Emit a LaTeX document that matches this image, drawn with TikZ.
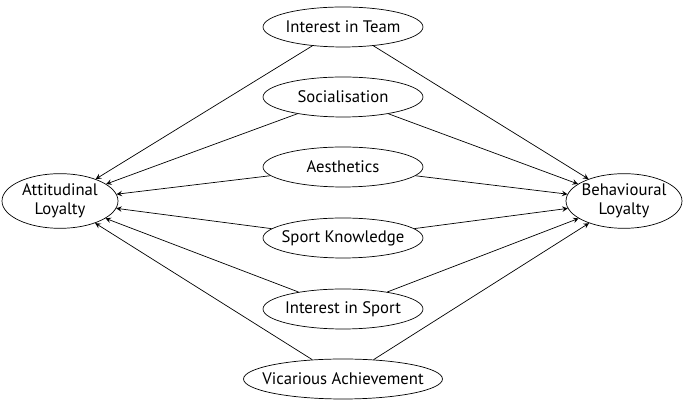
\documentclass[tikz,border=0pt]{standalone}
\usepackage{fontspec}
\setmainfont{PT Sans}
\usetikzlibrary{shapes.geometric}
\newcommand{\zw}[1]{\makebox[0pt]{#1}}
\begin{document}
\begin{tikzpicture}[x=0.02cm,y=-0.02cm,
  el/.style={draw,ellipse,inner sep=0pt,font=\fontsize{9.5}{11}\selectfont},
  arr/.style={->,>=stealth,thin}]
\useasboundingbox (0,0) rectangle (686,404);
\node[el,minimum width=3.2cm,minimum height=0.8cm] (t) at (343,27) {\zw{Interest in Team}};
\node[el,minimum width=3.2cm,minimum height=0.8cm] (s) at (343,97) {\zw{Socialisation}};
\node[el,minimum width=3.2cm,minimum height=0.8cm] (a) at (343,167) {\zw{Aesthetics}};
\node[el,minimum width=3.2cm,minimum height=0.8cm] (k) at (343,238) {\zw{Sport Knowledge}};
\node[el,minimum width=3.2cm,minimum height=0.8cm] (p) at (343,309) {\zw{Interest in Sport}};
\node[el,minimum width=3.98cm,minimum height=0.8cm] (v) at (343,379) {\zw{Vicarious Achievement}};
\node[el,minimum width=2.32cm,minimum height=1.06cm] (al) at (60,201) {\zw{\begin{tabular}{@{}c@{}}Attitudinal\\Loyalty\end{tabular}}};
\node[el,minimum width=2.32cm,minimum height=1.06cm] (bl) at (624,201) {\zw{\begin{tabular}{@{}c@{}}Behavioural\\Loyalty\end{tabular}}};
\foreach \n in {t,s,a,k,p,v}{
  \draw[arr] (\n) -- (al);
  \draw[arr] (\n) -- (bl);
}
\end{tikzpicture}
\end{document}
